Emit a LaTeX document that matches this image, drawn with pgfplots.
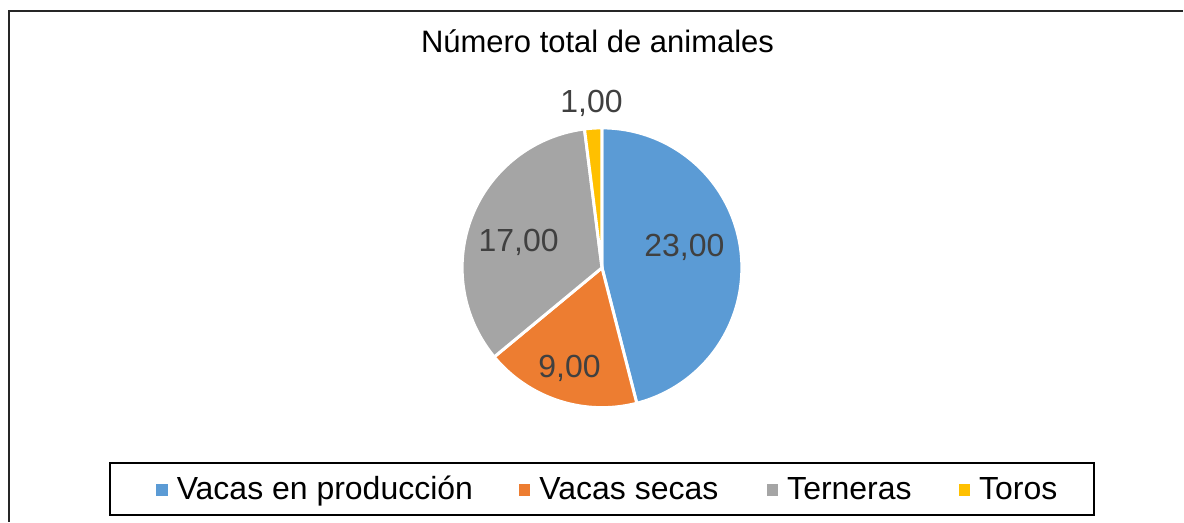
\documentclass[border=0pt]{standalone}
\usepackage{pgfplots}
\pgfplotsset{compat=1.18}
\usepackage{fontspec}
\setmainfont{Liberation Sans}

\definecolor{cBlue}{HTML}{5B9BD5}
\definecolor{cOrange}{HTML}{ED7D31}
\definecolor{cGray}{HTML}{A5A5A5}
\definecolor{cGold}{HTML}{FFC000}
\definecolor{cLabel}{HTML}{404040}

% data: Vacas en produccion, Vacas secas, Terneras, Toros
\def\vA{23}
\def\vB{9}
\def\vC{17}
\def\vD{1}
\pgfmathsetmacro\tot{\vA+\vB+\vC+\vD}
% slice angles, clockwise from 12 o'clock
\pgfmathsetmacro\aA{90}
\pgfmathsetmacro\aB{\aA-360*\vA/\tot}
\pgfmathsetmacro\aC{\aB-360*\vB/\tot}
\pgfmathsetmacro\aD{\aC-360*\vC/\tot}
\pgfmathsetmacro\aE{\aD-360*\vD/\tot}
% pie centre and radius (px units of the canvas)
\def\cx{602.5}
\def\cy{254}
\def\r{140}

\begin{document}
\begin{tikzpicture}
\begin{axis}[
  scale only axis,
  width=592pt, height=261pt,
  xmin=0, xmax=1184, ymin=0, ymax=522,
  hide axis, clip=false,
  slice/.style={draw=white, line width=1.5pt, samples=90, variable=\t},
]
\path (axis cs:0,0) rectangle (axis cs:1184,522);

% outer frame (only top and left are visible)
\draw[line width=1pt, black!85] (axis cs:9,0) -- (axis cs:9,511) -- (axis cs:1184,511);

\addplot[slice, fill=cBlue, domain=\aB:\aA] ({\cx+\r*cos(\t)},{\cy+\r*sin(\t)}) -- (axis cs:\cx,\cy) -- cycle;
\addplot[slice, fill=cOrange, domain=\aC:\aB] ({\cx+\r*cos(\t)},{\cy+\r*sin(\t)}) -- (axis cs:\cx,\cy) -- cycle;
\addplot[slice, fill=cGray, domain=\aD:\aC] ({\cx+\r*cos(\t)},{\cy+\r*sin(\t)}) -- (axis cs:\cx,\cy) -- cycle;
\addplot[slice, fill=cGold, domain=\aE:\aD, samples=10] ({\cx+\r*cos(\t)},{\cy+\r*sin(\t)}) -- (axis cs:\cx,\cy) -- cycle;

% title
\node[anchor=base, inner sep=0pt, font=\fontsize{15.5}{18}\selectfont] at (axis cs:598,469) {Número total de animales};

% data labels
\begin{scope}[every node/.style={anchor=base, inner sep=0pt, text=cLabel, font=\fontsize{16}{19}\selectfont}]
\node at (axis cs:685,265) {23,00};
\node at (axis cs:570,144) {9,00};
\node at (axis cs:519,270) {17,00};
\node at (axis cs:592,409) {1,00};
\end{scope}

% legend
\draw[line width=1pt] (axis cs:110,7) rectangle (axis cs:1095,59);
\begin{scope}[every node/.style={anchor=base west, inner sep=0pt, font=\fontsize{16}{19}\selectfont}]
\node at (axis cs:156,22) {\raisebox{2pt}{\textcolor{cBlue}{\rule{5.75pt}{5.75pt}}}\hspace{4.5pt}Vacas en producción};
\node at (axis cs:519,22) {\raisebox{2pt}{\textcolor{cOrange}{\rule{5.75pt}{5.75pt}}}\hspace{4.5pt}Vacas secas};
\node at (axis cs:767,22) {\raisebox{2pt}{\textcolor{cGray}{\rule{5.75pt}{5.75pt}}}\hspace{4.5pt}Terneras};
\node at (axis cs:959,22) {\raisebox{2pt}{\textcolor{cGold}{\rule{5.75pt}{5.75pt}}}\hspace{4.5pt}Toros};
\end{scope}
\end{axis}
\end{tikzpicture}
\end{document}
